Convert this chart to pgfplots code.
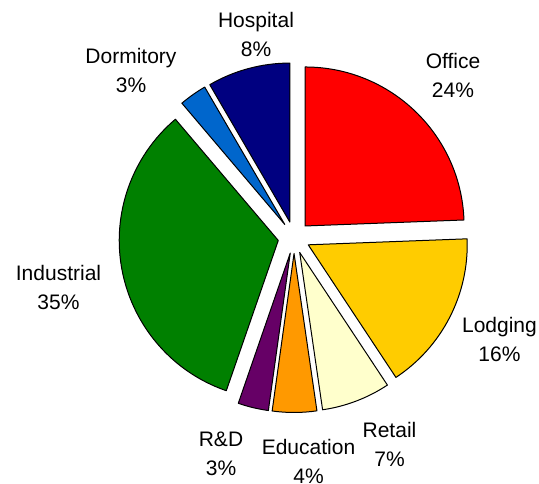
\documentclass[border=0pt]{standalone}
\usepackage{pgfplots}
\pgfplotsset{compat=1.18}
\usepackage{pgfplotstable}
\usepackage{fontspec}
\setmainfont{Liberation Sans}
\definecolor{office}{HTML}{FF0000}
\definecolor{lodging}{HTML}{FFCC00}
\definecolor{retail}{HTML}{FFFFCC}
\definecolor{education}{HTML}{FF9900}
\definecolor{rnd}{HTML}{660066}
\definecolor{industrial}{HTML}{008000}
\definecolor{dormitory}{HTML}{0066CC}
\definecolor{hospital}{HTML}{000080}
\tikzset{lbl/.style={font=\fontsize{21}{29}\selectfont,align=center,inner sep=0pt}}

% share of each slice, clockwise from 12 o'clock
\pgfplotstableread{
value color
24.4 office
16.3 lodging
7.0 retail
4.5 education
3.1 rnd
33.5 industrial
2.8 dormitory
8.4 hospital
}\piedata

\begin{document}
\begin{tikzpicture}
\begin{axis}[
    width=539pt,height=483pt,scale only axis,
    xmin=0,xmax=539,ymin=0,ymax=483,
    hide axis]
  \addplot[draw=none] coordinates {(0,0)(539,483)};
  \def\cx{294}\def\cy{245.5}\def\R{159}\def\ex{16}
  \def\start{90}
  \pgfplotsforeachungrouped \i in {0,...,7}{%
    \pgfplotstablegetelem{\i}{value}\of\piedata \let\val\pgfplotsretval
    \pgfplotstablegetelem{\i}{color}\of\piedata \let\col\pgfplotsretval
    \pgfmathsetmacro\stop{\start-3.6*\val}
    \pgfmathsetmacro\mid{(\start+\stop)/2}
    \pgfmathsetmacro\dx{\cx+\ex*cos(\mid)}
    \pgfmathsetmacro\dy{\cy+\ex*sin(\mid)}
    \edef\slice{\noexpand\filldraw[fill=\col,draw=black,line width=1pt,line join=round]
      (axis cs:\dx,\dy) -- ++(\start:\R pt)
      arc[start angle=\start,end angle=\stop,radius=\R pt] -- cycle;}%
    \slice
    \let\start\stop
  }
  \node[lbl] at (axis cs:453,407.5) {Office\\24\%};
  \node[lbl] at (axis cs:499.5,143.5) {Lodging\\16\%};
  \node[lbl] at (axis cs:389.5,39) {Retail\\7\%};
  \node[lbl] at (axis cs:308.5,21.5) {Education\\4\%};
  \node[lbl] at (axis cs:221,29) {R\&D\\3\%};
  \node[lbl] at (axis cs:58.5,195.5) {Industrial\\35\%};
  \node[lbl] at (axis cs:131,413) {Dormitory\\3\%};
  \node[lbl] at (axis cs:256,448.5) {Hospital\\8\%};
\end{axis}
\pgfresetboundingbox
\useasboundingbox (current axis.south west) rectangle (current axis.north east);
\end{tikzpicture}
\end{document}
